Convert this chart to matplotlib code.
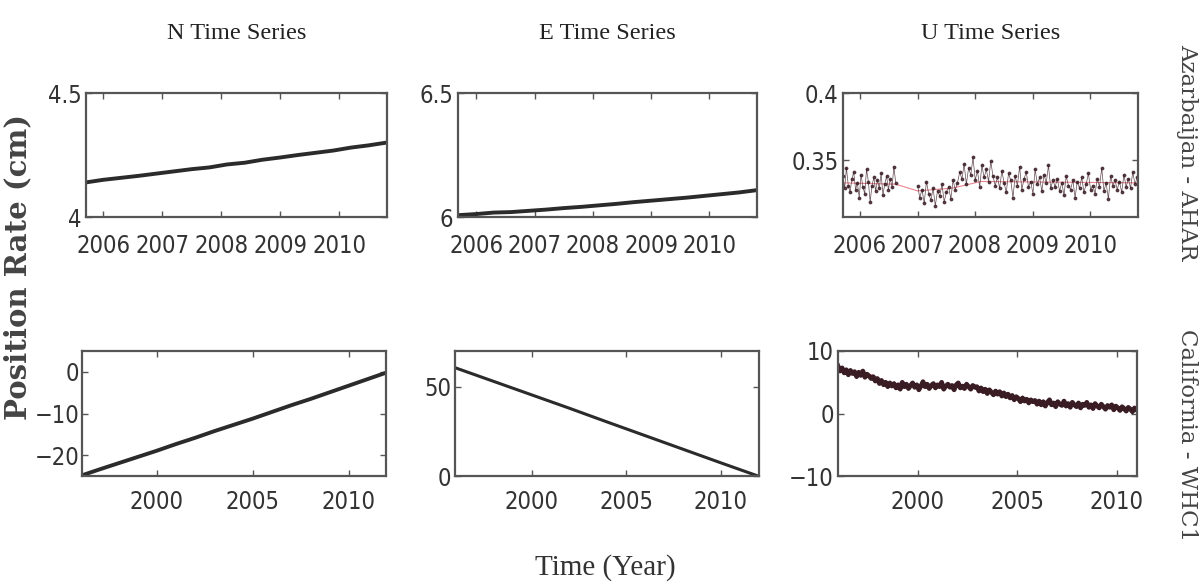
import numpy as np
import matplotlib
matplotlib.use("Agg")
import matplotlib.pyplot as plt
from matplotlib import font_manager

# ---- data ----
# Azarbaijan - AHAR (top row)
n_top_years = [2005.72, 2006.0, 2006.3, 2006.6, 2006.9, 2007.2, 2007.5, 2007.8, 2008.1, 2008.4,
               2008.7, 2009.0, 2009.3, 2009.6, 2009.9, 2010.2, 2010.5, 2010.8]
n_top_vals = [4.140, 4.150, 4.158, 4.166, 4.175, 4.184, 4.193, 4.200, 4.212, 4.219,
              4.231, 4.240, 4.250, 4.259, 4.268, 4.280, 4.289, 4.300]

e_top_years = [2005.72, 2006.0, 2006.3, 2006.6, 2006.9, 2007.2, 2007.5, 2007.8, 2008.1, 2008.4,
               2008.7, 2009.0, 2009.3, 2009.6, 2009.9, 2010.2, 2010.5, 2010.8]
e_top_vals = [6.008, 6.012, 6.018, 6.020, 6.025, 6.030, 6.036, 6.041, 6.047, 6.053,
              6.060, 6.066, 6.072, 6.078, 6.085, 6.092, 6.099, 6.108]

u_top_a = [0.338, 0.329, 0.344, 0.331, 0.326, 0.336, 0.341, 0.328, 0.333, 0.322,
           0.339, 0.330, 0.325, 0.343, 0.334, 0.319, 0.331, 0.337, 0.327, 0.335,
           0.329, 0.340, 0.324, 0.332, 0.338, 0.328, 0.336, 0.330, 0.345, 0.333]
u_top_b = [0.331, 0.322, 0.328, 0.318, 0.334, 0.325, 0.320, 0.329, 0.316, 0.327,
           0.323, 0.332, 0.319, 0.326, 0.330, 0.321, 0.335, 0.328,
           0.333, 0.341, 0.336, 0.347, 0.332, 0.344, 0.339, 0.352, 0.335, 0.342,
           0.330, 0.346, 0.337, 0.343, 0.334, 0.349, 0.338, 0.331,
           0.337, 0.329, 0.342, 0.333, 0.326, 0.340, 0.335, 0.322, 0.338, 0.331,
           0.345, 0.328, 0.336, 0.341, 0.330, 0.334, 0.325, 0.343, 0.332, 0.337,
           0.327, 0.339, 0.333, 0.346, 0.329, 0.335,
           0.330, 0.336, 0.327, 0.333, 0.324, 0.338, 0.331, 0.328, 0.335, 0.322,
           0.334, 0.329, 0.337, 0.326, 0.332, 0.340, 0.328, 0.331, 0.325, 0.336,
           0.330, 0.344, 0.327, 0.333, 0.321, 0.338, 0.331, 0.335, 0.328, 0.334,
           0.326, 0.339, 0.330, 0.336, 0.329, 0.341, 0.332, 0.337]
u_top_a_span = (2005.70, 2006.62)
u_top_b_span = (2007.00, 2010.82)
u_top_fit_years = [2005.70, 2006.62, 2007.00, 2007.6, 2008.1, 2010.82]
u_top_fit_vals = [0.333, 0.332, 0.327, 0.329, 0.334, 0.333]

# California - WHC1 (bottom row)
n_bot_years = [1996.1, 1997.0, 1998.0, 1999.0, 2000.0, 2001.0, 2002.0, 2003.0, 2004.0,
               2005.0, 2006.0, 2007.0, 2008.0, 2009.0, 2010.0, 2011.0, 2012.0]
n_bot_vals = [-24.8, -23.4, -21.9, -20.4, -18.9, -17.3, -15.8, -14.2, -12.7,
              -11.2, -9.6, -8.0, -6.5, -4.9, -3.3, -1.7, -0.1]

e_bot_years = [1996.0, 1998.0, 2000.0, 2002.0, 2004.0, 2006.0, 2008.0, 2010.0, 2012.0]
e_bot_vals = [60.5, 53.0, 45.5, 38.0, 30.3, 22.7, 15.1, 7.5, 0.0]

u_bot = [7.6, 6.8, 7.3, 6.5, 7.0, 6.2, 6.9, 6.4, 6.7, 5.9, 6.6, 6.1, 6.8, 5.8, 6.3, 6.0, 5.6,
         5.9, 5.2, 5.6, 4.8, 5.3, 4.6, 5.0, 4.3, 4.9, 4.4,
         4.8, 4.1, 4.6, 3.9, 5.0, 4.3, 4.7, 4.0, 4.5, 4.9, 4.2, 4.6, 3.8, 4.4, 5.1, 4.3, 4.7, 4.0,
         4.5, 4.8, 4.1, 4.6, 4.3, 5.0, 3.9, 4.4, 4.7, 4.2, 4.5, 3.8, 4.6, 4.9, 4.1, 4.4, 4.0, 4.7,
         4.3, 3.9, 4.5, 4.2,
         4.3, 3.6, 4.1, 3.5, 3.9, 3.2, 3.8, 3.4, 3.0, 3.6, 3.1, 3.5, 2.8, 3.3, 2.7, 3.1, 2.5, 2.9,
         2.2, 2.7, 2.4, 1.9, 2.5, 2.0, 2.3, 1.7, 2.2, 1.9,
         2.1, 1.5, 2.0, 1.4, 1.9, 1.2, 1.8, 2.2, 1.4, 1.7, 1.1, 1.9, 1.5, 1.3, 2.0, 1.2, 1.6, 1.0,
         1.8, 1.4, 1.1, 1.7, 0.9, 1.5, 1.3, 1.8, 1.0, 1.4, 0.8, 1.6, 1.2, 0.9, 1.5, 1.1, 0.7, 1.3,
         1.0, 1.4, 0.6, 1.2, 0.9, 0.5, 1.1, 0.8, 0.4, 1.0, 0.7, 0.3, 0.9, 0.6]
u_bot_span = (1996.0, 2011.0)
u_bot_fit_years = [1996.0, 1997.7, 1998.7, 2003.0, 2005.8, 2011.0]
u_bot_fit_vals = [7.0, 6.2, 4.6, 4.3, 2.0, 0.7]

titles = ["N Time Series", "E Time Series", "U Time Series"]
stations = ["Azarbaijan - AHAR", "California - WHC1"]

# ---- figure ----
fig = plt.figure(figsize=(12.04, 5.85), dpi=100)
tickprop = font_manager.FontProperties(family="DejaVu Sans", stretch="condensed", size=17)
serif = ["Liberation Serif", "DejaVu Serif"]

lefts_top = [0.0714, 0.380, 0.700]
lefts_bot = [0.068, 0.378, 0.696]
widths = [0.250, 0.249, 0.245]

axes_top = [fig.add_axes([lefts_top[i], 0.629, widths[i], 0.212]) for i in range(3)]
axes_bot = [fig.add_axes([lefts_bot[i], 0.186, widths[i] + 0.003, 0.214]) for i in range(3)]

datacol = "#2b2b2b"
dotcol = "#3a1c24"
fitcol = "#e05060"

# top row
ax = axes_top[0]
ax.plot(n_top_years, n_top_vals, color=fitcol, lw=0.8)
ax.plot(n_top_years, n_top_vals, color=datacol, lw=2.8)
ax.set_xlim(2005.71, 2010.81)
ax.set_ylim(4, 4.5)
ax.set_yticks([4, 4.5])
ax.set_yticklabels(["4", "4.5"])

ax = axes_top[1]
ax.plot(e_top_years, e_top_vals, color=fitcol, lw=0.8)
ax.plot(e_top_years, e_top_vals, color=datacol, lw=2.8)
ax.set_xlim(2005.68, 2010.82)
ax.set_ylim(6, 6.5)
ax.set_yticks([6, 6.5])
ax.set_yticklabels(["6", "6.5"])

ax = axes_top[2]
ta = np.linspace(u_top_a_span[0], u_top_a_span[1], len(u_top_a))
tb = np.linspace(u_top_b_span[0], u_top_b_span[1], len(u_top_b))
ax.plot(u_top_fit_years, u_top_fit_vals, color=fitcol, lw=0.8, alpha=0.7)
ax.plot(ta, u_top_a, color=dotcol, lw=0.5, marker=".", ms=3.5, alpha=0.8)
ax.plot(tb, u_top_b, color=dotcol, lw=0.5, marker=".", ms=3.5, alpha=0.8)
ax.set_xlim(2005.70, 2010.83)
ax.set_ylim(0.3075, 0.4)
ax.set_yticks([0.35, 0.4])
ax.set_yticklabels(["0.35", "0.4"])

for ax in axes_top:
    ax.set_xticks([2006, 2007, 2008, 2009, 2010])

# bottom row
ax = axes_bot[0]
ax.plot(n_bot_years, n_bot_vals, color=fitcol, lw=0.8)
ax.plot(n_bot_years, n_bot_vals, color=datacol, lw=2.8)
ax.set_xlim(1996.1, 2011.96)
ax.set_ylim(-25, 5)
ax.set_yticks([-20, -10, 0])
ax.set_yticklabels(["\u221220", "\u221210", "0"])

ax = axes_bot[1]
ax.plot(e_bot_years, e_bot_vals, color=datacol, lw=2.2)
ax.set_xlim(1995.96, 2012.0)
ax.set_ylim(0, 70)
ax.set_yticks([0, 50])

ax = axes_bot[2]
tu = np.linspace(u_bot_span[0], u_bot_span[1], len(u_bot))
ax.plot(u_bot_fit_years, u_bot_fit_vals, color=fitcol, lw=0.8, alpha=0.7)
ax.plot(tu, u_bot, color=dotcol, lw=3.4)
ax.set_xlim(1996.0, 2011.0)
ax.set_ylim(-10, 10)
ax.set_yticks([-10, 0, 10])
ax.set_yticklabels(["\u221210", "0", "10"])

for ax in axes_bot:
    ax.set_xticks([2000, 2005, 2010])

for ax in axes_top + axes_bot:
    ax.tick_params(direction="in", top=True, right=True, length=4, width=1,
                   color="#555555", labelcolor="#333333", pad=3)
    for lab in ax.get_xticklabels() + ax.get_yticklabels():
        lab.set_fontproperties(tickprop)
    for sp in ax.spines.values():
        sp.set_linewidth(1.6)
        sp.set_color("#555555")
for ax in axes_top:
    ax.tick_params(axis="x", pad=12)
for ax in axes_bot:
    ax.tick_params(axis="x", pad=10)
axes_bot[0].tick_params(axis="y", pad=2)

for i in range(3):
    pos = axes_top[i].get_position()
    fig.text(pos.x0 + pos.width / 2, 0.943, titles[i], ha="center", va="center",
             family=serif, fontsize=17.5, color="#222222")

fig.text(0.015, 0.543, "Position Rate (cm)", rotation=90, ha="center", va="center",
         family="DejaVu Serif", fontsize=21, fontweight="bold", color="#444444")
fig.text(0.503, 0.03, "Time (Year)", ha="center", va="center",
         family=serif, fontsize=21, color="#333333")

fig.text(0.986, 0.74, stations[0], rotation=-90, ha="center", va="center",
         family="DejaVu Serif", fontsize=16.5, color="#444444")
fig.text(0.986, 0.256, stations[1], rotation=-90, ha="center", va="center",
         family="DejaVu Serif", fontsize=16.5, color="#444444")

fig.savefig("out.png", dpi=100)
